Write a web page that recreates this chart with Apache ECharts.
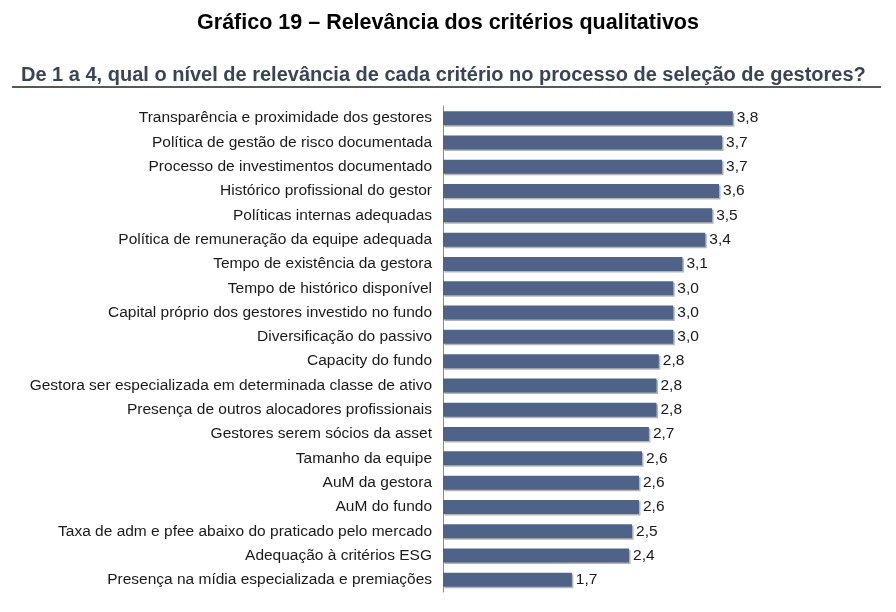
<!DOCTYPE html>
<html>
<head>
<meta charset="utf-8">
<style>
  html, body { margin: 0; padding: 0; background: #fff; }
  #chart { width: 896px; height: 612px; }
</style>
<script src="https://cdn.jsdelivr.net/npm/echarts@6/dist/echarts.min.js"></script>
</head>
<body>
<div id="chart"></div>
<script>
// categorias (de cima para baixo)
var criterios = [
  'Transparência e proximidade dos gestores',
  'Política de gestão de risco documentada',
  'Processo de investimentos documentado',
  'Histórico profissional do gestor',
  'Políticas internas adequadas',
  'Política de remuneração da equipe adequada',
  'Tempo de existência da gestora',
  'Tempo de histórico disponível',
  'Capital próprio dos gestores investido no fundo',
  'Diversificação do passivo',
  'Capacity do fundo',
  'Gestora ser especializada em determinada classe de ativo',
  'Presença de outros alocadores profissionais',
  'Gestores serem sócios da asset',
  'Tamanho da equipe',
  'AuM da gestora',
  'AuM do fundo',
  'Taxa de adm e pfee abaixo do praticado pelo mercado',
  'Adequação à critérios ESG',
  'Presença na mídia especializada e premiações'
];
var notas = [3.80, 3.66, 3.66, 3.62, 3.53, 3.44, 3.14, 3.02, 3.02, 3.02,
             2.83, 2.80, 2.80, 2.70, 2.61, 2.57, 2.57, 2.48, 2.44, 1.69];

var chart = echarts.init(document.getElementById('chart'));

chart.setOption({
  backgroundColor: '#fff',
  animation: false,
  title: [{
    text: 'Gráfico 19 – Relevância dos critérios qualitativos',
    left: 'center',
    top: 7,
    textStyle: { fontFamily: 'Liberation Sans', fontSize: 21.5, fontWeight: 'bold', color: '#000' }
  }, {
    text: 'De 1 a 4, qual o nível de relevância de cada critério no processo de seleção de gestores?',
    left: 16,
    top: 60,
    textStyle: { fontFamily: 'Liberation Sans', fontSize: 20, fontWeight: 'bold', color: '#3b4455' }
  }],
  graphic: [{
    type: 'line',
    shape: { x1: 12, y1: 87, x2: 881, y2: 87 },
    style: { stroke: '#222', lineWidth: 1.5 }
  }],
  grid: { left: 443, right: 148, top: 106, bottom: 20 },
  xAxis: {
    type: 'value',
    min: 0,
    max: 4,
    show: false
  },
  yAxis: {
    type: 'category',
    inverse: true,
    data: criterios,
    axisLine: { show: true, lineStyle: { color: '#8a8a8a', width: 1 } },
    axisTick: { show: false },
    axisLabel: {
      margin: 11,
      fontFamily: 'Liberation Sans',
      fontSize: 15.5,
      color: '#1a1a1a'
    }
  },
  series: [{
    type: 'bar',
    data: notas,
    barWidth: 14,
    itemStyle: {
      color: '#4f6388',
      shadowColor: 'rgba(120,120,120,0.55)',
      shadowOffsetX: 1.5,
      shadowOffsetY: 1.5,
      shadowBlur: 0
    },
    label: {
      show: true,
      position: 'right',
      distance: 4,
      fontFamily: 'Liberation Sans',
      fontSize: 15.5,
      color: '#1a1a1a',
      formatter: function (p) { return p.value.toFixed(1).replace('.', ','); }
    }
  }]
});
</script>
</body>
</html>
